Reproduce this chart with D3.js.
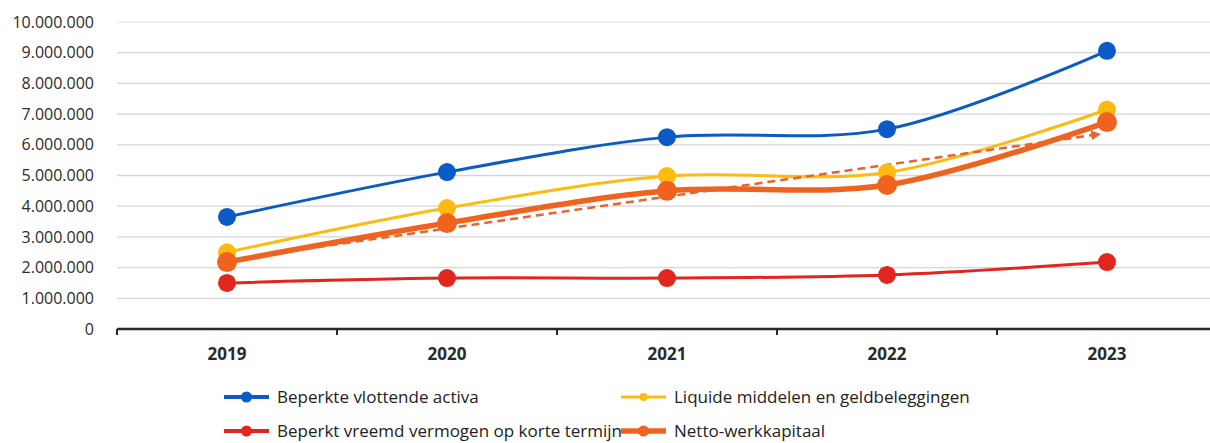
<!DOCTYPE html>
<html>
<head>
<meta charset="utf-8">
<script src="https://cdn.jsdelivr.net/npm/d3@7"></script>
<style>
  html, body { margin: 0; padding: 0; background: #fff; }
  svg { display: block; }
  text { font-family: "Open Sans", "Noto Sans", sans-serif; }
</style>
</head>
<body>
<svg id="chart" width="1210" height="443"></svg>
<script>
// Jaren op de x-as
const years = ["2019", "2020", "2021", "2022", "2023"];

// Reeksen (in euro)
const beperkteVlottendeActiva = [3650000, 5110000, 6250000, 6510000, 9060000];
const liquideMiddelen = [2500000, 3940000, 4980000, 5100000, 7150000];
const kortVreemdVermogen = [1500000, 1660000, 1660000, 1760000, 2180000];
const nettoWerkkapitaal = [2180000, 3450000, 4500000, 4690000, 6740000];

// Labels van de y-as
const yTicks = [0, 1000000, 2000000, 3000000, 4000000, 5000000, 6000000, 7000000, 8000000, 9000000, 10000000];
const yTickLabels = ["0", "1.000.000", "2.000.000", "3.000.000", "4.000.000", "5.000.000",
                     "6.000.000", "7.000.000", "8.000.000", "9.000.000", "10.000.000"];

const series = [
  { name: "Beperkte vlottende activa", values: beperkteVlottendeActiva, color: "#0b5bc6", width: 3, r: 9 },
  { name: "Liquide middelen en geldbeleggingen", values: liquideMiddelen, color: "#fdbb12", width: 3, r: 9 },
  { name: "Beperkt vreemd vermogen op korte termijn", values: kortVreemdVermogen, color: "#e2261d", width: 3, r: 9 },
  { name: "Netto-werkkapitaal", values: nettoWerkkapitaal, color: "#f0631f", width: 5.5, r: 10 }
];

const svg = d3.select("#chart");
const plotLeft = 117, plotRight = 1217, plotTop = 22, plotBottom = 329;

const x = d3.scaleBand().domain(years).range([plotLeft, plotRight]);
const cx = d => x(d) + x.bandwidth() / 2;
const y = d3.scaleLinear().domain([0, 10000000]).range([plotBottom, plotTop]);

// Horizontale rasterlijnen
svg.append("g")
  .selectAll("line")
  .data(yTicks.filter(t => t > 0))
  .join("line")
  .attr("x1", plotLeft).attr("x2", 1210)
  .attr("y1", d => y(d)).attr("y2", d => y(d))
  .attr("stroke", d => d === 10000000 ? "#ececec" : "#d6d6d6")
  .attr("stroke-width", 1.3);

// Y-as labels
const yAxis = d3.axisLeft(y)
  .tickValues(yTicks)
  .tickFormat((d, i) => yTickLabels[i])
  .tickSize(0)
  .tickPadding(0);
const yg = svg.append("g").attr("transform", "translate(94,0)").call(yAxis);
yg.select(".domain").remove();
yg.selectAll("text")
  .attr("font-size", 16)
  .attr("fill", "#2b2b2b")
  .attr("font-family", "'Open Sans', sans-serif");

// X-as met streepjes op de categoriegrenzen
const xAxis = d3.axisBottom(x).tickSize(0).tickPadding(0).tickFormat(() => "");
const xg = svg.append("g").attr("transform", `translate(0,${plotBottom})`).call(xAxis);
xg.select(".domain").remove();
xg.append("line")
  .attr("x1", plotLeft).attr("x2", 1210)
  .attr("y1", 0).attr("y2", 0)
  .attr("stroke", "#2a2a2a").attr("stroke-width", 2.5);
xg.selectAll(".boundary")
  .data(years.map(d => x(d)))
  .join("line")
  .attr("class", "boundary")
  .attr("x1", d => d).attr("x2", d => d)
  .attr("y1", 0).attr("y2", 6)
  .attr("stroke", "#2a2a2a").attr("stroke-width", 2);

svg.append("g")
  .selectAll("text")
  .data(years)
  .join("text")
  .attr("x", d => cx(d))
  .attr("y", 360)
  .attr("text-anchor", "middle")
  .attr("font-size", 17)
  .attr("font-weight", "bold")
  .attr("fill", "#2a2a2a")
  .text(d => d);

// Lijnen
const line = d3.line()
  .x((d, i) => cx(years[i]))
  .y(d => y(d))
  .curve(d3.curveCatmullRom.alpha(0.5));

const lines = svg.append("g");
series.forEach(s => {
  lines.append("path")
    .datum(s.values)
    .attr("d", line)
    .attr("fill", "none")
    .attr("stroke", s.color)
    .attr("stroke-width", s.width)
    .attr("stroke-linejoin", "round")
    .attr("stroke-linecap", "round");
});

// Lineaire trendlijn van het netto-werkkapitaal
const idx = nettoWerkkapitaal.map((_, i) => i);
const mx = d3.mean(idx), my = d3.mean(nettoWerkkapitaal);
const slope = d3.sum(idx, i => (i - mx) * (nettoWerkkapitaal[i] - my)) / d3.sum(idx, i => (i - mx) ** 2);
const intercept = my - slope * mx;

svg.append("defs").append("marker")
  .attr("id", "arrow")
  .attr("viewBox", "0 0 10 10")
  .attr("refX", 8).attr("refY", 5)
  .attr("markerWidth", 4).attr("markerHeight", 4)
  .attr("orient", "auto")
  .append("path")
  .attr("d", "M0,0 L10,5 L0,10 Z")
  .attr("fill", "#e8642a");

const x0 = cx(years[0]);
const xEnd = cx(years[4]) - 8;
const trendAt = px => intercept + slope * ((px - x0) / x.step());
lines.append("path")
  .attr("d", `M${x0},${y(trendAt(x0))} L${xEnd},${y(trendAt(xEnd))}`)
  .attr("fill", "none")
  .attr("stroke", "#e8642a")
  .attr("stroke-width", 2.5)
  .attr("stroke-dasharray", "8,5")
  .attr("marker-end", "url(#arrow)");

// Markers
series.forEach(s => {
  lines.append("g")
    .selectAll("circle")
    .data(s.values)
    .join("circle")
    .attr("cx", (d, i) => cx(years[i]))
    .attr("cy", d => y(d))
    .attr("r", s.r)
    .attr("fill", s.color);
});

// Legenda
const legendItems = [
  { s: series[0], x: 224, y: 397 },
  { s: series[1], x: 621, y: 397 },
  { s: series[2], x: 224, y: 431 },
  { s: series[3], x: 621, y: 431 }
];
const lg = svg.append("g");
legendItems.forEach(it => {
  const g = lg.append("g").attr("transform", `translate(${it.x},${it.y})`);
  g.append("line")
    .attr("x1", 0).attr("x2", 45)
    .attr("y1", 0).attr("y2", 0)
    .attr("stroke", it.s.color)
    .attr("stroke-width", it.s === series[3] ? 5.5 : (it.s === series[1] ? 3 : 4));
  g.append("circle")
    .attr("cx", 22.5).attr("cy", 0)
    .attr("r", it.s === series[1] ? 4 : 5.5)
    .attr("fill", it.s.color);
  g.append("text")
    .attr("x", 53).attr("y", 0)
    .attr("dy", "0.35em")
    .attr("font-size", 17)
    .attr("fill", "#222")
    .text(it.s.name);
});
</script>
</body>
</html>
